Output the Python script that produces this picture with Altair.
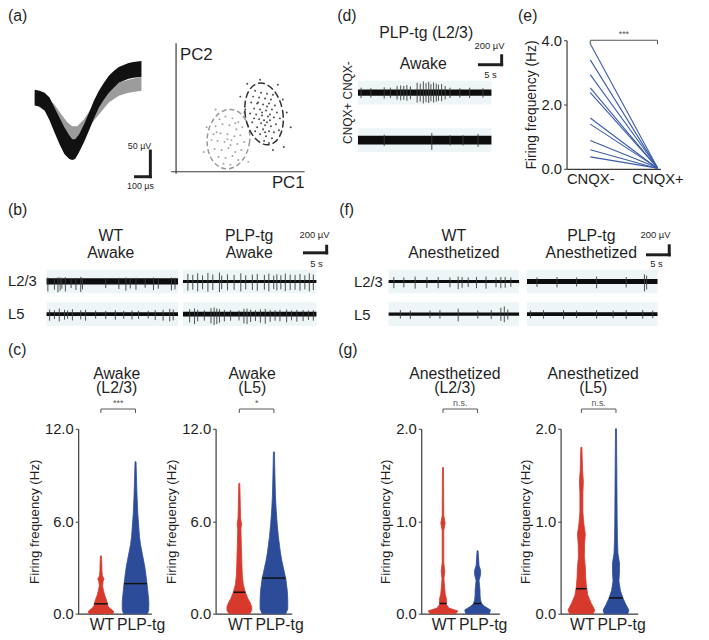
import altair as alt
import numpy as np
import pandas as pd

FONT = "Liberation Sans"
W, H = 709, 640
RED = "#d8392d"
BLUE = "#2c4c99"
LINE_BLUE = "#3a5ca8"
INK = "#1f1f1f"
AXC = "#3a3a3a"
BG = "#edf5f6"

# ---------------- (a) spike waveforms: time (µs), voltage (µV) envelopes
wf_black_t = [0, 33, 67, 100, 133, 167, 200, 233, 253, 273, 300, 333, 367, 400, 433, 467, 500, 533, 567, 600, 633, 667, 720]
wf_black_hi = [30.8, 28.8, 25, 15.4, -3.8, -23.1, -42.3, -57.7, -65.4, -65.4, -55.8, -36.5, -13.5, 9.6, 28.8, 44.2, 57.7, 67.3, 75, 78.8, 82.7, 84.6, 86.5]
wf_black_lo = [0, -1.9, -9.6, -28.8, -51.9, -75, -94.2, -103.8, -105.8, -103.8, -90.4, -71.2, -48.1, -25, -3.8, 11.5, 25, 34.6, 44.2, 48.1, 51.9, 53.8, 55.8]
wf_gray_t = [0, 67, 133, 180, 220, 253, 287, 333, 380, 433, 500, 567, 633, 720]
wf_gray_hi = [25, 21.2, 1.9, -17.3, -32.7, -40.4, -40.4, -26.9, -5.8, 13.5, 32.7, 44.2, 50, 55.8]
wf_gray_lo = [1.9, -9.6, -36.5, -55.8, -67.3, -71.2, -67.3, -55.8, -36.5, -17.3, 5.8, 19.2, 25, 28.8]
SB_A_T, SB_A_V = 680, -138.5  # scale-bar anchor (µs, µV)

# PCA scatter (arbitrary units)
pc_dark_1 = [8.0, 8.6, 9.2, 7.8, 8.4, 9.0, 9.6, 7.6, 8.2, 8.8, 9.4, 10.0, 7.9, 8.5, 9.1, 9.7, 10.2, 7.5, 8.1, 8.7,
             9.3, 9.9, 8.4, 8.9, 9.2, 9.5, 8.6, 9.0, 9.6, 10.1, 8.2, 8.8, 9.4, 9.9, 8.5, 9.1, 9.7, 8.9, 9.4, 10.4,
             10.5, 7.7, 8.0, 9.8, 8.3, 9.5, 8.7, 9.2, 7.9, 9.0, 7.2, 8.5, 10.8, 11.6, 10.9, 7.0, 11.2, 9.8, 6.5, 10.3]
pc_dark_2 = [8.2, 8.0, 7.9, 7.6, 7.5, 7.4, 7.3, 7.0, 6.9, 6.8, 6.9, 6.7, 6.4, 6.3, 6.2, 6.3, 6.0, 5.9, 5.8, 5.7,
             5.6, 5.5, 5.3, 5.2, 5.0, 5.2, 4.9, 4.7, 4.6, 4.8, 4.5, 4.3, 4.1, 4.0, 3.8, 3.6, 3.4, 3.1, 2.9, 4.2,
             5.4, 5.0, 4.1, 7.8, 7.0, 5.8, 6.0, 6.6, 5.4, 4.0, 8.9, 9.3, 7.3, 4.5, 2.5, 6.3, 6.0, 2.2, 7.6, 8.8]
pc_gray_1 = [4.4, 5.0, 5.7, 6.3, 4.0, 4.7, 5.4, 6.1, 6.7, 3.8, 4.5, 5.2, 5.9, 6.5, 4.2, 4.9, 5.6, 6.2, 6.9, 3.9,
             4.6, 5.3, 6.0, 6.6, 4.3, 5.0, 5.7, 6.3, 4.8, 5.5, 5.2, 4.1, 6.0, 5.5, 3.6, 3.1, 2.8, 7.3, 6.9, 4.0]
pc_gray_2 = [5.3, 5.6, 5.4, 5.0, 4.6, 4.8, 4.7, 4.3, 4.5, 3.8, 3.9, 3.8, 3.6, 3.7, 3.1, 3.0, 3.2, 2.8, 3.0, 2.3,
             2.2, 2.4, 2.0, 2.2, 1.5, 1.4, 1.6, 1.2, 0.8, 0.7, 3.3, 4.0, 4.9, 2.7, 3.2, 4.5, 2.0, 1.0, 6.0, 6.3]
ell_pc1 = [8.9, 5.3]
ell_pc2 = [5.85, 3.3]

# ---------------- traces: spike times (s), spike troughs / peaks (µV)
b_wt23_t = [0.3, 1.8, 2.6, 3.1, 3.5, 4.3, 5.6, 6.7, 7.8, 8.2, 13.5, 16.5, 18.1, 19.1, 20.4, 22.5, 24.4, 25.5, 28.5, 29.3]
b_wt23_lo = [-300, -250, -330, -280, -220, -300, -200, -260, -320, -240, -200, -230, -280, -210, -250, -190, -260, -220, -270, -240]
b_wt23_hi = [120, 110, 130, 120, 110, 130, 100, 110, 140, 110, 100, 110, 120, 100, 110, 100, 120, 100, 120, 110]
b_plp23_t = [1.1, 2.2, 3.3, 4.4, 5.6, 6.7, 8.2, 8.7, 10.0, 11.5, 13.0, 14.1, 15.6, 16.7, 18.3, 19.3, 20.4, 21.1, 22.0, 23.0, 24.1, 25.2, 26.3, 27.4, 28.4, 29.3]
b_plp23_lo = [-280, -250, -300, -240, -310, -260, -320, -230, -270, -250, -300, -240, -260, -280, -250, -300, -230, -270, -240, -290, -260, -250, -280, -240, -300, -260]
b_plp23_hi = [230, 200, 250, 190, 260, 210, 270, 180, 220, 200, 250, 190, 210, 230, 200, 240, 180, 220, 190, 240, 210, 200, 230, 190, 250, 210]
b_wt5_t = [0.7, 1.8, 2.9, 4.1, 4.8, 5.9, 7.8, 8.9, 11.2, 13.5, 15.7, 17.6, 19.5, 21.0, 23.2, 24.8, 26.6, 28.1, 28.9]
b_wt5_lo = [-200, -150, -220, -170, -140, -190, -160, -200, -140, -150, -170, -140, -160, -150, -130, -180, -200, -220, -190]
b_wt5_hi = [140, 120, 170, 130, 110, 150, 120, 130, 110, 100, 120, 100, 110, 100, 100, 120, 130, 160, 140]
b_plp5_t = [1.5, 2.6, 3.3, 4.8, 6.3, 7.0, 7.6, 8.2, 9.3, 10.7, 12.6, 13.7, 14.4, 15.2, 16.3, 17.4, 18.5, 19.6, 20.7, 21.8, 23.3, 24.4, 25.6, 27.0, 28.2, 29.3]
b_plp5_lo = [-250, -300, -220, -200, -280, -330, -300, -260, -220, -200, -190, -280, -300, -240, -210, -260, -290, -230, -200, -220, -250, -190, -230, -210, -180, -200]
b_plp5_hi = [150, 170, 130, 120, 180, 200, 170, 150, 130, 120, 110, 160, 170, 140, 120, 150, 160, 130, 120, 130, 140, 110, 130, 120, 110, 120]
d_minus_t = [0.7, 2.9, 5.9, 7.3, 8.8, 9.6, 10.3, 11.0, 11.8, 13.3, 14.0, 14.7, 15.3, 15.9, 16.4, 17.0, 17.6, 18.1, 18.8, 19.6, 20.7, 22.9, 25.1, 28.1]
d_minus_lo = [-120, -110, -130, -120, -150, -170, -160, -180, -150, -220, -200, -240, -210, -230, -190, -220, -200, -180, -190, -150, -120, -110, -120, -110]
d_minus_hi = [110, 100, 120, 110, 150, 160, 150, 170, 140, 220, 200, 250, 210, 240, 190, 230, 200, 180, 190, 150, 110, 100, 110, 100]
d_plus_t = [5.9, 16.6, 20.7, 23.6, 27.0]
d_plus_lo = [-130, -220, -120, -120, -150]
d_plus_hi = [120, 160, 110, 110, 140]
f_wt23_t = [1.2, 3.5, 6.1, 8.8, 11.4, 14.1, 16.0, 16.9, 18.3, 20.2, 22.4, 24.7, 25.8, 26.8, 28.1]
f_wt23_lo = [-150, -130, -160, -140, -150, -130, -170, -140, -120, -150, -160, -130, -150, -140, -120]
f_wt23_hi = [100, 90, 110, 100, 100, 90, 110, 100, 90, 100, 110, 90, 100, 100, 90]
f_plp23_t = [2.3, 6.9, 11.4, 16.0, 22.8, 27.0, 27.5]
f_plp23_lo = [-120, -130, -110, -150, -130, -220, -180]
f_plp23_hi = [90, 100, 90, 110, 100, 160, 130]
f_wt5_t = [2.7, 5.0, 9.5, 11.8, 16.0, 20.5, 23.6, 25.8, 26.6, 27.4]
f_wt5_lo = [-100, -110, -90, -100, -160, -100, -110, -150, -180, -120]
f_wt5_hi = [90, 80, 80, 90, 120, 80, 90, 140, 170, 100]
f_plp5_t = [0.8, 3.8, 8.4, 11.4, 16.0, 19.8, 22.8, 26.6, 28.9]
f_plp5_lo = [-90, -100, -110, -90, -100, -90, -110, -100, -90]
f_plp5_hi = [80, 90, 90, 80, 90, 80, 90, 90, 80]

# ---------------- (e) paired firing frequencies (Hz)
cnqx_minus = [3.89, 3.39, 2.93, 2.52, 2.37, 1.58, 1.39, 0.88, 0.59, 0.37]
cnqx_plus = [0.03, 0.02, 0.04, 0.02, 0.03, 0.01, 0.02, 0.03, 0.01, 0.02]

# ---------------- violins: frequency (Hz) and density (a.u.)
c23_wt_f = [0, 0.1, 0.2, 0.35, 0.5, 0.65, 0.8, 1.0, 1.2, 1.5, 1.8, 2.1, 2.25, 2.45, 2.8, 3.2, 3.75]
c23_wt_d = [12, 13, 12, 9, 7, 6.8, 6, 5, 3.8, 2.6, 1.6, 2.2, 3.2, 1.5, 1, 0.9, 0.5]
c23_plp_f = [0, 0.2, 0.6, 0.9, 1.4, 1.9, 2.5, 3.0, 3.4, 4.0, 4.5, 5.0, 5.6, 6.5, 7.5, 8.5, 9.86]
c23_plp_d = [12, 13.3, 13.5, 13.3, 12.5, 11.7, 10.5, 9.5, 8.3, 6.5, 5, 4, 3.3, 2.3, 1.6, 1.1, 0.5]
c5_wt_f = [0, 0.2, 0.45, 0.7, 1.0, 1.4, 1.9, 2.5, 3.4, 4.5, 5.5, 5.8, 6.2, 7.0, 8.46]
c5_wt_d = [10.5, 12.5, 12.5, 11, 8.5, 6, 4, 3, 2.5, 2, 1.6, 2.2, 1.3, 1, 0.5]
c5_plp_f = [0, 0.3, 0.9, 1.5, 2.25, 3.0, 3.43, 4.0, 5.0, 5.8, 6.8, 7.7, 9.0, 10.5]
c5_plp_d = [12, 14, 14, 13.5, 12, 9.5, 8, 6.5, 4.5, 3.3, 2.2, 1.5, 1, 0.5]
g23_wt_f = [0, 0.03, 0.06, 0.1, 0.16, 0.21, 0.3, 0.38, 0.46, 0.55, 0.9, 0.98, 1.06, 1.58]
g23_wt_d = [13, 15, 6, 3.5, 3.5, 2.3, 1.5, 1, 1.8, 0.8, 0.8, 2.2, 0.8, 0.5]
g23_plp_f = [0, 0.04, 0.08, 0.11, 0.15, 0.2, 0.25, 0.3, 0.36, 0.42, 0.47, 0.52, 0.6, 0.68]
g23_plp_d = [12, 13, 7, 4, 3, 2.5, 2.5, 2, 1.5, 3, 3, 1.5, 1, 0.5]
g5_wt_f = [0, 0.04, 0.11, 0.2, 0.3, 0.4, 0.5, 0.62, 0.75, 0.86, 0.97, 1.1, 1.3, 1.43, 1.55, 1.8]
g5_wt_d = [12, 13.5, 10, 6.5, 5, 4.3, 4, 3, 3.2, 4, 2.5, 1.5, 1.5, 2, 1.2, 0.5]
g5_plp_f = [0, 0.04, 0.1, 0.17, 0.25, 0.35, 0.45, 0.55, 0.65, 0.8, 1.0, 1.3, 1.6, 2.0]
g5_plp_d = [12, 13, 10, 7, 4.5, 3, 3.5, 3.5, 2, 1.5, 1.2, 1, 0.8, 0.5]
c23_med = [0.64, 1.95]
c5_med = [1.39, 2.31]
g23_med = [0.11, 0.11]
g5_med = [0.27, 0.17]
groups = ["WT", "PLP-tg"]

# =====================================================================
one = pd.DataFrame({"k": [0]})
layers = []


def lin(dom, rng):
    return alt.Scale(domain=list(dom), range=list(rng), zero=False, nice=False)


def txt(s, x, y, size=16, align="center", baseline="middle", angle=None, color=INK, lh=None):
    kw = dict(text=s, font=FONT, fontSize=size, align=align, baseline=baseline, color=color)
    if angle is not None:
        kw["angle"] = angle
    if lh is not None:
        kw["lineHeight"] = lh
    return alt.Chart(one).mark_text(**kw).encode(x=alt.value(x), y=alt.value(y))


AX_STYLE = dict(grid=False, labelColor=INK, titleColor=INK, domainColor=AXC, tickColor=AXC,
                labelFont=FONT, titleFont=FONT, domainWidth=1.2, labelFlush=False, labelOverlap=False)


def yaxis(x_px, ticks, lsize=15, tsize=13.5):
    return alt.Axis(orient="left", offset=-x_px, values=ticks, format=".1f", title="Firing frequency (Hz)",
                    tickSize=3, labelPadding=2, titlePadding=3, labelFontSize=lsize,
                    titleFontSize=tsize, titleFontWeight="normal", **AX_STYLE)


def xaxis_e(y_px, labels, lsize=15):
    expr = "datum.value == 0 ? '%s' : '%s'" % (labels[0], labels[1])
    return alt.Axis(orient="bottom", offset=y_px - H, values=[0, 1], labelExpr=expr, ticks=False,
                    title=None, labelFontSize=lsize, labelPadding=3, **AX_STYLE)


def xaxis_violin(y_px, labels, lsize=16):
    # WT label ends just right of the WT violin, PLP-tg label starts just after it
    expr = "datum.value < 0.4 ? '%s' : '%s'" % (labels[0], labels[1])
    return alt.Axis(orient="bottom", offset=y_px - H, values=[0.37, 0.45], labelExpr=expr, ticks=False,
                    title=None, labelFontSize=lsize, labelPadding=3,
                    labelAlign={"condition": {"test": "datum.value < 0.4", "value": "right"}, "value": "left"},
                    **AX_STYLE)


# ---------------- (a) waveform
xs_wf = lin([0, 720], [35, 143])
ys_wf = lin([-110, 90], [160.2, 56.2])
for t, hi, lo, col in ((wf_gray_t, wf_gray_hi, wf_gray_lo, "#9c9c9c"),
                       (wf_black_t, wf_black_hi, wf_black_lo, "#111111")):
    df = pd.DataFrame({"t": t, "hi": hi, "lo": lo})
    layers.append(alt.Chart(df).mark_area(color=col).encode(
        x=alt.X("t:Q", scale=xs_wf, axis=None),
        y=alt.Y("hi:Q", scale=ys_wf, axis=None), y2="lo:Q"))
sb_a = pd.DataFrame({"x": [SB_A_T, SB_A_T + 100], "x2": [SB_A_T + 100, SB_A_T + 100],
                     "y": [SB_A_V, SB_A_V], "y2": [SB_A_V, SB_A_V + 50]})
layers.append(alt.Chart(sb_a).mark_rule(color=INK, strokeWidth=3, strokeCap="square").encode(
    x=alt.X("x:Q", scale=xs_wf, axis=None), x2="x2:Q",
    y=alt.Y("y:Q", scale=ys_wf, axis=None), y2="y2:Q"))
layers += [txt("50 µV", 141, 144, size=9), txt("100 µs", 142, 184, size=9)]

# PCA
xs_pc = lin([0, 13], [178, 308])
ys_pc = lin([0, 13], [170, 40])
pc_axes = pd.DataFrame({"a": [-0.5, 0], "b": [13, 0], "c": [0, -0.2], "d": [0, 13]})
layers.append(alt.Chart(pc_axes).mark_rule(color=AXC, strokeWidth=1.2).encode(
    x=alt.X("a:Q", scale=xs_pc, axis=None), x2="b:Q",
    y=alt.Y("c:Q", scale=ys_pc, axis=None), y2="d:Q"))
for p1, p2, col in ((pc_gray_1, pc_gray_2, "#9a9a9a"), (pc_dark_1, pc_dark_2, "#3a3a3a")):
    layers.append(alt.Chart(pd.DataFrame({"p1": p1, "p2": p2})).mark_circle(size=4, color=col, opacity=0.9).encode(
        x=alt.X("p1:Q", scale=xs_pc, axis=None), y=alt.Y("p2:Q", scale=ys_pc, axis=None)))


def ellipse_path(r):
    k = 0.5523
    return ("M1,0 C1,{a:.3f} {k:.3f},{r:.3f} 0,{r:.3f} C{nk:.3f},{r:.3f} -1,{a:.3f} -1,0 "
            "C-1,{na:.3f} {nk:.3f},{nr:.3f} 0,{nr:.3f} C{k:.3f},{nr:.3f} 1,{na:.3f} 1,0 Z").format(
        a=k * r, k=k, r=r, nk=-k, na=-k * r, nr=-r)


for i, (shape_r, size, ang, col, dash) in enumerate(((1.4, 1849, 6, "#9a9a9a", [5, 3]),
                                                     (1.66, 1444, 350, "#2e2e2e", [7, 3]))):
    df = pd.DataFrame({"p1": [ell_pc1[1 - i]], "p2": [ell_pc2[1 - i]]})
    layers.append(alt.Chart(df).mark_point(shape=ellipse_path(shape_r), size=size, angle=ang, filled=False,
                                           color=col, strokeWidth=1.5, strokeDash=dash, opacity=1).encode(
        x=alt.X("p1:Q", scale=xs_pc, axis=None), y=alt.Y("p2:Q", scale=ys_pc, axis=None)))
layers += [txt("PC2", 182, 52, size=17, align="left"), txt("PC1", 308, 181, size=17, align="right")]


# ---------------- traces
def trace(x0, x1, yc, k, noise, t, lo, hi):
    xs = lin([0, 30], [x0, x1])
    ys = lin([-1000, 1000], [yc + 1000 / k, yc - 1000 / k])
    bg = pd.DataFrame({"a": [0.0], "b": [30.0], "lo": [-12 * k], "hi": [12 * k]})
    band = pd.DataFrame({"a": [0.0], "b": [30.0], "lo": [-noise], "hi": [noise]})
    sp = pd.DataFrame({"t": t, "lo": lo, "hi": hi})
    X = lambda f: alt.X(f, scale=xs, axis=None)
    Y = lambda f: alt.Y(f, scale=ys, axis=None)
    out = [
        alt.Chart(bg).mark_rect(color=BG).encode(x=X("a:Q"), x2="b:Q", y=Y("lo:Q"), y2="hi:Q"),
        alt.Chart(band).mark_rect(color="#0d0d0d").encode(x=X("a:Q"), x2="b:Q", y=Y("lo:Q"), y2="hi:Q"),
        alt.Chart(sp).mark_rule(color="#3c3c3c", strokeWidth=0.9).encode(x=X("t:Q"), y=Y("lo:Q"), y2="hi:Q"),
    ]
    return out, xs, ys


def scalebar(xs, ys, t0, v0, dt=5, dv=200):
    df = pd.DataFrame({"x": [t0, t0 + dt], "x2": [t0 + dt, t0 + dt], "y": [v0, v0], "y2": [v0, v0 + dv]})
    return alt.Chart(df).mark_rule(color=INK, strokeWidth=3, strokeCap="square").encode(
        x=alt.X("x:Q", scale=xs, axis=None), x2="x2:Q", y=alt.Y("y:Q", scale=ys, axis=None), y2="y2:Q")


# (b)
l, _, _ = trace(47, 180, 281, 30, 95, b_wt23_t, b_wt23_lo, b_wt23_hi); layers += l
l, xs_b, ys_b = trace(185, 320, 281, 30, 45, b_plp23_t, b_plp23_lo, b_plp23_hi); layers += l
l, _, _ = trace(47, 180, 314, 30, 55, b_wt5_t, b_wt5_lo, b_wt5_hi); layers += l
l, _, _ = trace(185, 320, 314, 30, 75, b_plp5_t, b_plp5_lo, b_plp5_hi); layers += l
layers.append(scalebar(xs_b, ys_b, 27.3, 870))
layers += [txt(["WT", "Awake"], 112, 235, lh=17), txt(["PLP-tg", "Awake"], 252, 235, lh=17),
           txt("200 µV", 318, 234, size=9.5), txt("5 s", 320, 263, size=9.5),
           txt("L2/3", 8, 281, size=15, align="left"), txt("L5", 8, 314, size=15, align="left")]

# (d)
l, xs_d, ys_d = trace(362, 497, 90, 22, 70, d_minus_t, d_minus_lo, d_minus_hi); layers += l
l, _, _ = trace(362, 497, 138, 22, 95, d_plus_t, d_plus_lo, d_plus_hi); layers += l
layers.append(scalebar(xs_d, ys_d, 27.3, 622))
layers += [txt("PLP-tg (L2/3)", 431, 30), txt("Awake", 428, 61),
           txt("200 µV", 495, 43, size=9.5), txt("5 s", 496, 72, size=9.5),
           txt("CNQX+  CNQX-", 352, 100, size=12, angle=270)]

# (f)
l, _, _ = trace(393, 525, 281, 22, 35, f_wt23_t, f_wt23_lo, f_wt23_hi); layers += l
l, xs_f, ys_f = trace(533, 665, 281, 22, 55, f_plp23_t, f_plp23_lo, f_plp23_hi); layers += l
l, _, _ = trace(393, 525, 314, 22, 35, f_wt5_t, f_wt5_lo, f_wt5_hi); layers += l
l, _, _ = trace(533, 665, 314, 22, 40, f_plp5_t, f_plp5_lo, f_plp5_hi); layers += l
layers.append(scalebar(xs_f, ys_f, 27.7, 594))
layers += [txt(["WT", "Anesthetized"], 459, 235, lh=17), txt(["PLP-tg", "Anesthetized"], 598, 235, lh=17),
           txt("200 µV", 663, 234, size=9.5), txt("5 s", 664, 263, size=9.5),
           txt("L2/3", 358, 282, size=15, align="left"), txt("L5", 358, 315, size=15, align="left")]

# ---------------- (e) paired lines
U_E = 68.0
xs_e = lin([(573 - 597) / U_E, (668 - 597) / U_E], [573, 668])
ys_e = lin([0, 4], [167, 37])
rows = []
for i, (a, b) in enumerate(zip(cnqx_minus, cnqx_plus)):
    rows += [{"pair": i, "c": 0, "f": a}, {"pair": i, "c": 1, "f": b}]
e_df = pd.DataFrame(rows)
# axes carried by an invisible-colour-neutral layer, lines drawn on top
layers.append(alt.Chart(e_df).mark_point(opacity=0, color=INK).encode(
    x=alt.X("c:Q", scale=xs_e, axis=xaxis_e(167, ["CNQX-", "CNQX+"])),
    y=alt.Y("f:Q", scale=ys_e, axis=yaxis(573, [0, 2, 4], lsize=15, tsize=14))))
layers.append(alt.Chart(e_df).mark_line(color=LINE_BLUE, strokeWidth=1.1).encode(
    x=alt.X("c:Q", scale=xs_e, axis=None), y=alt.Y("f:Q", scale=ys_e, axis=None), detail="pair:N"))


def bracket(xs, y_px, label, label_y):
    return [
        alt.Chart(pd.DataFrame({"a": [0], "b": [1]})).mark_rule(color="#555555", strokeWidth=1).encode(
            x=alt.X("a:Q", scale=xs, axis=None), x2="b:Q", y=alt.value(y_px)),
        alt.Chart(pd.DataFrame({"p": [0, 1]})).mark_rule(color="#555555", strokeWidth=1).encode(
            x=alt.X("p:Q", scale=xs, axis=None), y=alt.value(y_px), y2=alt.value(y_px + 4)),
        alt.Chart(pd.DataFrame({"p": [0.5], "s": [label]})).mark_text(font=FONT, fontSize=9, color="#555555").encode(
            x=alt.X("p:Q", scale=xs, axis=None), y=alt.value(label_y), text="s:N"),
    ]


layers += bracket(xs_e, 37, "***", 31)

# ---------------- violins (c) and (g)
DENS_TO_X = 1 / 35.0


def violin(ax_x, end_x, wt_c, ymax, ticks, wt_f, wt_d, plp_f, plp_d, meds, star):
    U = 35.0
    xs = lin([(ax_x - wt_c) / U, (end_x - wt_c) / U], [ax_x, end_x])
    ys = lin([0, ymax], [617, 430])
    out, mrows = [], []
    for grp, pos, ff, dd, med, col in (("WT", 0, wt_f, wt_d, meds[0], RED),
                                       ("PLP-tg", 1, plp_f, plp_d, meds[1], BLUE)):
        df = pd.DataFrame({"f": ff, "lo": [pos - d * DENS_TO_X for d in dd],
                           "hi": [pos + d * DENS_TO_X for d in dd]})
        out.append(alt.Chart(df).mark_area(orient="horizontal", color=col, stroke=col, strokeWidth=0.8).encode(
            y=alt.Y("f:Q", scale=ys, axis=None), x=alt.X("lo:Q", scale=xs, axis=None), x2="hi:Q"))
        dm = float(np.interp(med, ff, dd))
        mrows.append({"f": med, "lo": pos - dm * DENS_TO_X, "hi": pos + dm * DENS_TO_X})
    # medians (black) also carry the axes
    out.append(alt.Chart(pd.DataFrame(mrows)).mark_rule(color="#111111", strokeWidth=1.5).encode(
        y=alt.Y("f:Q", scale=ys, axis=yaxis(ax_x, ticks)),
        x=alt.X("lo:Q", scale=xs, axis=xaxis_violin(617, groups)), x2="hi:Q"))
    out += bracket(xs, 410, star, 404)
    return out


layers += violin(79, 153, 102, 12, [0, 6, 12], c23_wt_f, c23_wt_d, c23_plp_f, c23_plp_d, c23_med, "***")
layers += violin(218, 295, 242, 12, [0, 6, 12], c5_wt_f, c5_wt_d, c5_plp_f, c5_plp_d, c5_med, "*")
layers += violin(426, 505, 448, 2, [0, 1, 2], g23_wt_f, g23_wt_d, g23_plp_f, g23_plp_d, g23_med, "n.s.")
layers += violin(567, 645, 588, 2, [0, 1, 2], g5_wt_f, g5_wt_d, g5_plp_f, g5_plp_d, g5_med, "n.s.")
layers += [txt(["Awake", "(L2/3)"], 118, 375, lh=14), txt(["Awake", "(L5)"], 255, 375, lh=14),
           txt(["Anesthetized", "(L2/3)"], 460, 375, lh=14), txt(["Anesthetized", "(L5)"], 600, 375, lh=14)]

# panel letters
layers += [txt("(a)", 8, 13, align="left"), txt("(d)", 341, 13, align="left"), txt("(e)", 524, 13, align="left"),
           txt("(b)", 8, 209, align="left"), txt("(f)", 343, 209, align="left"),
           txt("(c)", 8, 350, align="left"), txt("(g)", 342, 350, align="left")]

chart = alt.layer(*layers).resolve_scale(
    x="independent", y="independent"
).properties(
    width=W, height=H, autosize=alt.AutoSizeParams(type="none"),
    padding={"left": -8, "top": -8, "right": 0, "bottom": 0},
    background="white",
).configure_view(stroke=None).configure_axis(
    labelFont=FONT, titleFont=FONT, labelColor=INK, titleColor=INK, domainColor=AXC, tickColor=AXC
)

chart.save("out.html", embed_options={"renderer": "svg", "actions": False})
